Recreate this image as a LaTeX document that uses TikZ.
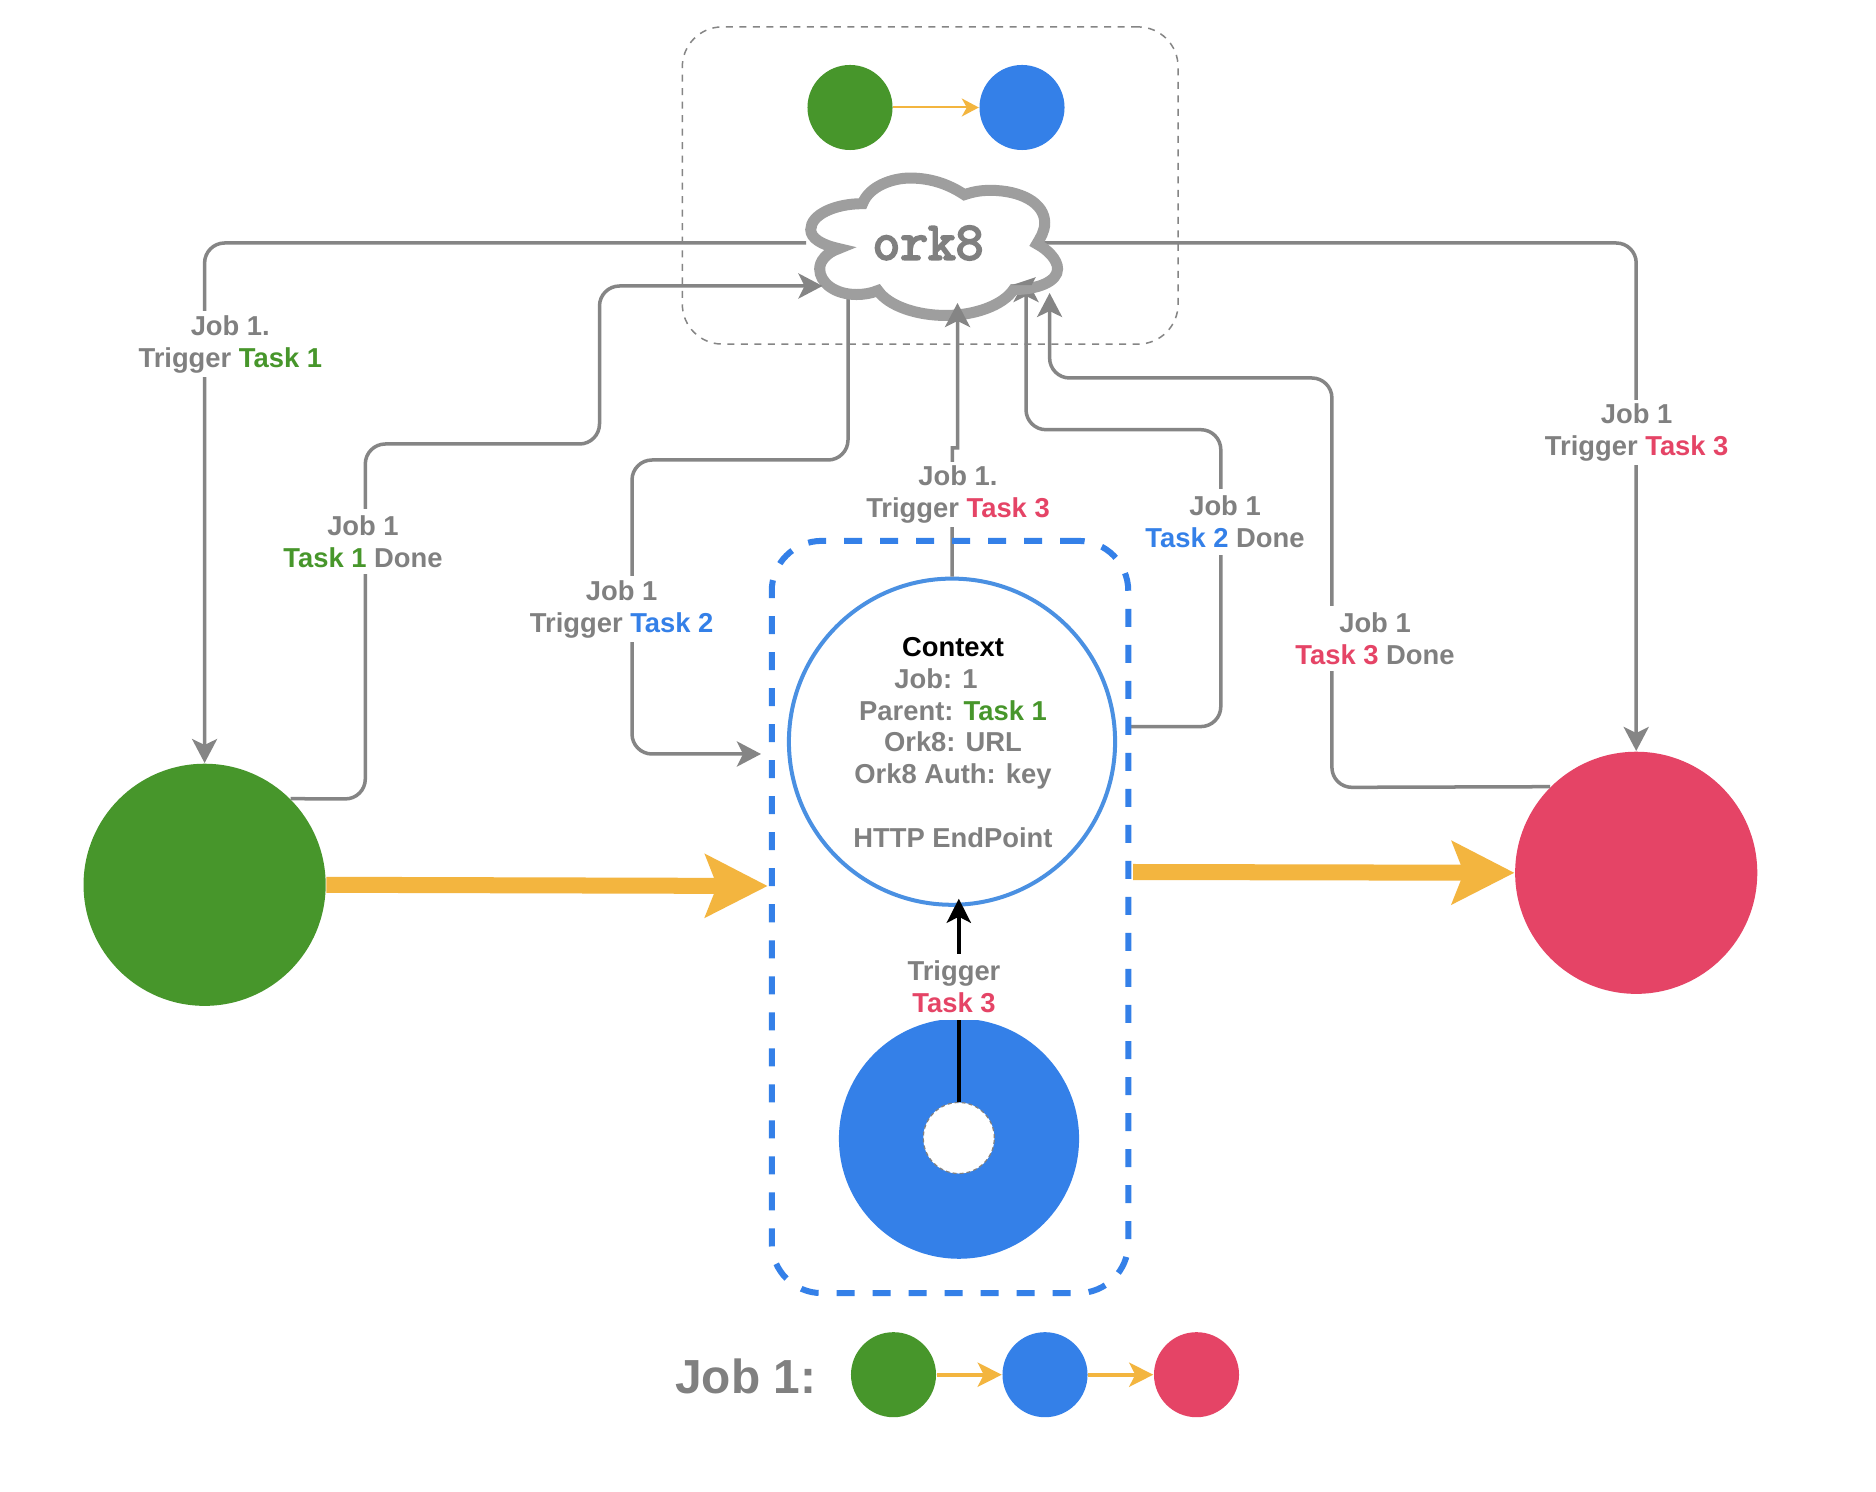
\documentclass[tikz,border=0pt]{standalone}
\usepackage{fontspec}
\setmainfont{Liberation Sans}
\newfontfamily\orkfont[FakeBold=4]{Latin Modern Mono}
\usetikzlibrary{arrows.meta,calc}
\definecolor{cgreen}{HTML}{47962B}
\definecolor{cblue}{HTML}{3480E8}
\definecolor{cred}{HTML}{E54466}
\definecolor{corange}{HTML}{F3B53F}
\definecolor{cgrey}{HTML}{808080}
\definecolor{cline}{HTML}{858585}
\definecolor{ccloud}{HTML}{9E9E9E}
\definecolor{cring}{HTML}{4A90E2}
\tikzset{
  x=.01cm,y=-.01cm,
  bigdot/.style={circle,inner sep=0pt,minimum size=2.42cm},
  smalldot/.style={circle,inner sep=0pt,minimum size=.85cm},
  lab/.style={font=\fontsize{7.78pt}{9.1pt}\selectfont\bfseries,align=center,text=cgrey,inner sep=0pt,fill=white,minimum height=.65cm},
  ctxlab/.style={font=\fontsize{7.78pt}{9.03pt}\selectfont\bfseries,align=center,text=cgrey,inner sep=0pt},
  conn/.style={draw=cline,line width=.035cm,rounded corners=.2cm},
  head/.style={-{Stealth[length=.24cm,width=.25cm,inset=.06cm]}},
  fatarrow/.style={draw=corange,line width=.16cm,-{Stealth[length=.62cm,width=.62cm,inset=.115cm]}},
  smallarrow/.style={draw=corange,line width=.02cm,-{Stealth[length=.17cm,width=.18cm,inset=.05cm]}},
  midarrow/.style={draw=corange,line width=.04cm,-{Stealth[length=.24cm,width=.24cm,inset=.06cm]}},
}
\begin{document}
\begin{tikzpicture}
\useasboundingbox (0,0) rectangle (1876,1492);
\fill[white] (0,0) rectangle (1876,1492);

% dashed frame
\node[draw=cline,line width=.015cm,dash pattern=on .07cm off .065cm,rounded corners=.4cm,
  minimum width=4.955cm,minimum height=3.17cm,inner sep=0pt] (frame) at (930.2,185.5) {};

% main nodes
\node[bigdot,fill=cgreen] (green) at (204.6,884.8) {};
\node[bigdot,fill=cred] (red) at (1636.2,872.8) {};
\node[smalldot,fill=cgreen] (topgreen) at (850,107.5) {};
\node[smalldot,fill=cblue] (topblue) at (1022,107.5) {};

% endpoints on the cloud and elsewhere
\coordinate (cloudW) at (806,243);
\coordinate (cloudE) at (1044,243);
\coordinate (cloudB) at (848,298);
\coordinate (inB) at (822.5,286);
\coordinate (inD) at (957.5,303);
\coordinate (inE) at (1026,278);
\coordinate (inF) at (1049.6,293);
\coordinate (inC) at (761,754);
\coordinate (outE) at (1127.5,726.6);
\coordinate (jogA) at (952.3,448);
\coordinate (jogB) at (957.5,448);

\node[circle,draw=cring,line width=.04cm,fill=white,minimum size=3.26cm,inner sep=0pt] (context) at (952,741.7) {};

% grey connectors that pass under the cloud
\draw[conn,head] (cloudW) -| (green.north);
\draw[conn,head] (cloudB) -- (848,460) -- (632,460) -- (632,754) -- (inC);
\draw[conn,head] (outE) -- (1220.8,726.6) -- (1220.8,429.7) -- (1026,429.7) -- (inE);
\draw[conn,head] (cloudE) -| (red.north);

% cloud
\begin{scope}[shift={(660,0)},x=.0035714cm,y=-.0033333cm]
\draw[draw=ccloud,fill=white,line width=.11cm,line join=miter,miter limit=12]
 (567,612) .. controls (585,560) and (650,535) .. (700,535)
 .. controls (760,535) and (810,555) .. (852,585)
 .. controls (880,575) and (900,572) .. (925,572)
 .. controls (1010,572) and (1077,610) .. (1077,670)
 .. controls (1077,695) and (1065,715) .. (1055,733)
 .. controls (1085,750) and (1113,780) .. (1113,808)
 .. controls (1113,845) and (1060,870) .. (990,870)
 .. controls (960,918) and (880,948) .. (800,948)
 .. controls (720,948) and (640,920) .. (610,873)
 .. controls (590,882) and (570,885) .. (550,885)
 .. controls (490,885) and (447,850) .. (447,808)
 .. controls (447,785) and (465,760) .. (500,747)
 .. controls (450,735) and (422,715) .. (422,690)
 .. controls (422,645) and (490,612) .. (567,612) -- cycle;
\fill[cline] (985,857) -- (1052,833) -- (1040,857) -- cycle;
\end{scope}
\node[font=\fontsize{15.3pt}{16pt}\selectfont\orkfont,text=cgrey,inner sep=0pt] (ork) at (928,243) {ork8};

% grey connectors that end on top of the cloud
\draw[conn,head] (green.45) -- (365.3,799) -- (365.3,444) -- (599.5,444) -- (599.5,286) -- (inB);
\draw[conn,rounded corners=0pt,head] (context.north) -- (jogA) -- (jogB) -- (inD);
\draw[conn,head] (red.135) -- (1331.9,787.4) -- (1331.9,378) -- (1049.6,378) -- (inF);

% top arrow
\draw[smallarrow] (topgreen) -- (topblue);

% orange fat arrows
\coordinate (fatL) at (767.7,886);
\coordinate (fatRs) at (1133,872);
\draw[fatarrow] (green.east) -- (fatL);
\draw[fatarrow] (fatRs) -- (red.west);

% blue dashed group
\node[draw=cblue,line width=.06cm,dash pattern=on .18cm off .18cm,rounded corners=.5cm,
  minimum width=3.563cm,minimum height=7.518cm,inner sep=0pt] (group) at (950,917) {};

% donut
\node[bigdot,minimum size=2.40cm,fill=cblue] (donut) at (959,1138.7) {};
\node[circle,fill=white,draw=cgrey,line width=.012cm,dash pattern=on .04cm off .03cm,minimum size=.71cm,inner sep=0pt] (hole) at (958.8,1138) {};
\coordinate (ctxIn) at (958.8,898.7);
\draw[draw=black,line width=.045cm,-{Stealth[length=.24cm,width=.24cm,inset=.06cm]}] (hole.north) -- (ctxIn);

% labels
\node[lab] (la) at (230.3,344) {Job 1.\\Trigger \textcolor{cgreen}{Task 1}};
\node[lab] (lb) at (363,541.6) {Job 1\\\textcolor{cgreen}{Task 1} Done};
\node[lab] (lc) at (621.7,609) {Job 1\\Trigger \textcolor{cblue}{Task 2}};
\node[lab] (ld) at (958,494.9) {Job 1.\\Trigger \textcolor{cred}{Task 3}};
\node[lab] (le) at (1225,522) {Job 1\\\textcolor{cblue}{Task 2} Done};
\node[lab] (lf) at (1375,638.6) {Job 1\\\textcolor{cred}{Task 3} Done};
\node[lab] (lg) at (1636.7,432.4) {Job 1\\Trigger \textcolor{cred}{Task 3}};
\node[lab] (lt) at (954,987) {Trigger\\\textcolor{cred}{Task 3}};

\node[ctxlab] (ctxtext) at (953,742.5) {\textcolor{black}{Context}\\Job: 1\rule{.34cm}{0pt}\\Parent: \textcolor{cgreen}{Task 1}\\Ork8: URL\\Ork8 Auth: key\\[9.03pt]HTTP EndPoint};

% legend
\node[font=\fontsize{13.6pt}{16pt}\selectfont\bfseries,text=cgrey,inner sep=0pt,anchor=base west] (jobleg) at (674.5,1393) {Job 1:};
\node[smalldot,fill=cgreen] (lg1) at (893.5,1374.7) {};
\node[smalldot,fill=cblue] (lg2) at (1045,1374.7) {};
\node[smalldot,fill=cred] (lg3) at (1196.5,1374.7) {};
\draw[midarrow] (lg1) -- (lg2);
\draw[midarrow] (lg2) -- (lg3);
\end{tikzpicture}
\end{document}
